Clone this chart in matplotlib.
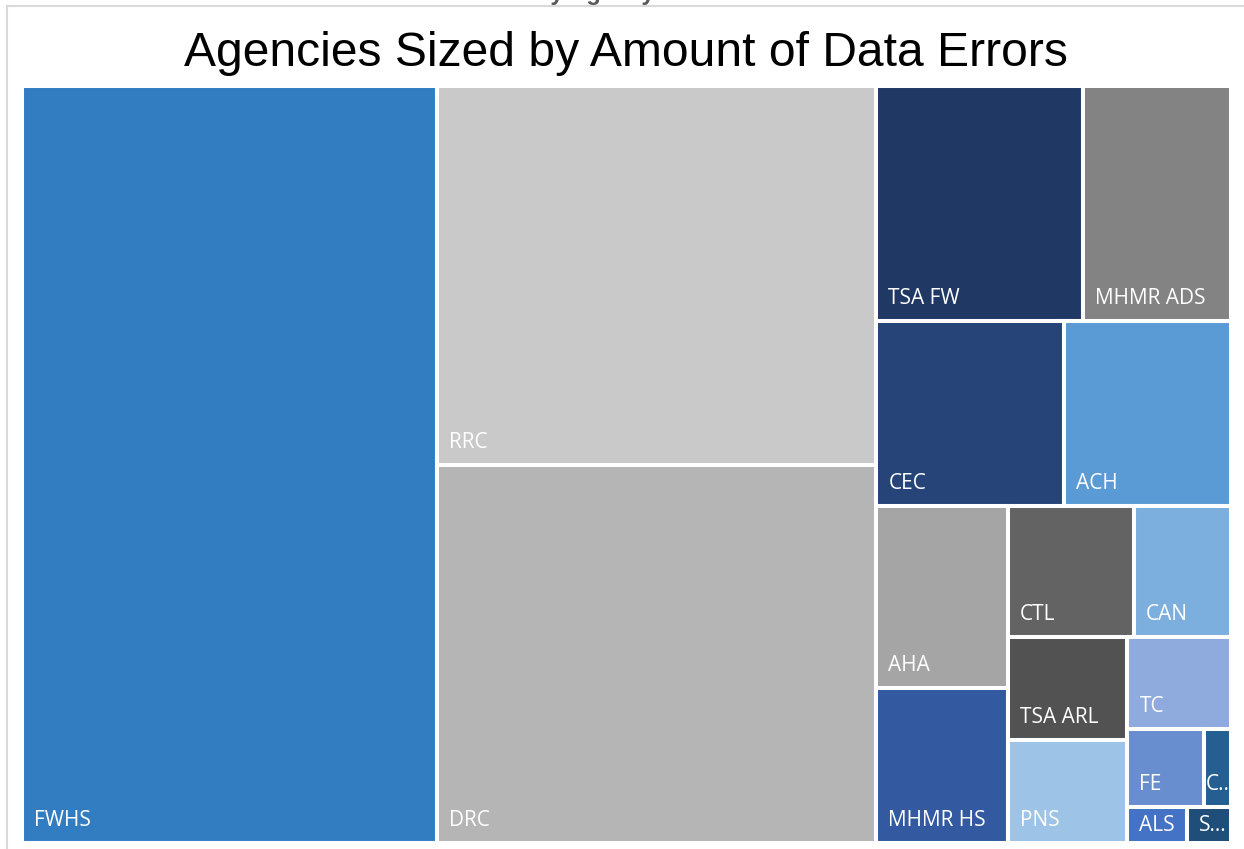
import matplotlib
matplotlib.use("Agg")
import matplotlib.pyplot as plt
from matplotlib.patches import Rectangle

# agencies, largest first (relative error counts)
agencies = ["FWHS", "RRC", "DRC", "TSA FW", "MHMR ADS", "CEC", "ACH", "AHA",
            "MHMR HS", "CTL", "CAN", "TSA ARL", "PNS", "TC", "FE", "C...",
            "ALS", "S..."]
errors = [588, 312, 311, 91, 65, 65, 58, 45, 38, 31, 24, 23, 23, 18, 11, 4, 4, 3]
colors = ["#327DC2", "#C9C9C9", "#B5B5B5", "#203864", "#838383", "#264478",
          "#5B9BD5", "#A5A5A5", "#335AA1", "#636363", "#7CAFDD", "#525252",
          "#9DC3E6", "#8FAADC", "#698ED0", "#255E91", "#4472C4", "#1F4E79"]
# how many agencies go into each strip of the treemap (Excel's grouping)
strips = [1, 2, 2, 2, 2, 2, 2, 1, 2, 1, 1]


def strip_layout(areas, groups, x, y, w, h):
    """Strip treemap: each strip runs along the shorter side; y grows downward."""
    rects = []
    i = 0
    for n in groups:
        row = areas[i:i + n]
        i += n
        s = sum(row)
        if w >= h:
            dx = s / h
            yy = y
            for r in row:
                rects.append((x, yy, dx, r / dx))
                yy += r / dx
            x += dx
            w -= dx
        else:
            dy = s / w
            xx = x
            for r in row:
                rects.append((xx, y, r / dy, dy))
                xx += r / dy
            y += dy
            h -= dy
    return rects


W, H = 1209.3, 756.5
total = sum(errors)
areas = [v / total * W * H for v in errors]
rects = strip_layout(areas, strips, 0, 0, W, H)

fig = plt.figure(figsize=(12.44, 8.49), dpi=100)
fig.patch.set_facecolor("white")

# chart area border and the cut-off heading above it
fig.add_artist(plt.Line2D([7.5 / 1244, 7.5 / 1244], [0, 1 - 6 / 849],
                          color="#D9D9D9", lw=1.5))
fig.add_artist(plt.Line2D([7.5 / 1244, 1], [1 - 6 / 849, 1 - 6 / 849],
                          color="#D9D9D9", lw=1.5))
fig.text(536 / 1244, 1.0, "by Agency", fontsize=17, fontweight="bold",
         color="#595959", family="Liberation Sans", va="baseline", ha="left")

fig.text(626 / 1244, 1 - 66 / 849, "Agencies Sized by Amount of Data Errors",
         fontsize=34.6, family="Liberation Sans", color="black",
         ha="center", va="baseline")

ax = fig.add_axes([22 / 1244, 6.5 / 849, W / 1244, H / 849])
ax.set_xlim(0, W)
ax.set_ylim(H, 0)
ax.axis("off")

for name, color, (x0, y0, dx, dy) in zip(agencies, colors, rects):
    ax.add_patch(Rectangle((x0, y0), dx, dy, facecolor=color,
                           edgecolor="white", lw=2.9, clip_on=False))
    pad_x = 12 if dx > 40 else 2
    pad_y = min(17, dy - 24)
    ax.text(x0 + pad_x, y0 + dy - pad_y, name, color="white", fontsize=15,
            family="Open Sans", ha="left", va="baseline", clip_on=False)

fig.savefig("out.png", dpi=100, facecolor="white")
